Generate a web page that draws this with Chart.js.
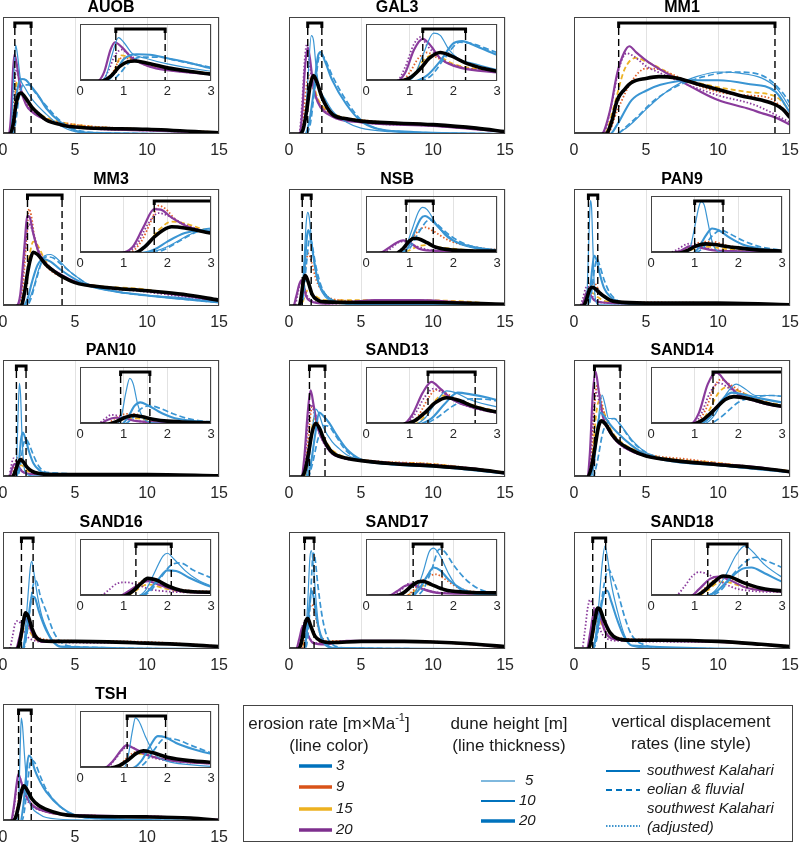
<!DOCTYPE html>
<html>
<head>
<meta charset="utf-8">
<script src="https://cdn.jsdelivr.net/npm/chart.js@4.4.1/dist/chart.umd.min.js"></script>
<style>
  body { margin: 0; background: #fff; width: 799px; height: 844px; position: relative; overflow: hidden; }
  canvas { position: absolute; }
</style>
</head>
<body>
<script>
const FONT = '"Liberation Sans", Arial, sans-serif';

const panelNames = ['AUOB', 'GAL3', 'MM1', 'MM3', 'NSB', 'PAN9', 'PAN10', 'SAND13', 'SAND14', 'SAND16', 'SAND17', 'SAND18', 'TSH'];
const brackets = [[0.82, 1.95], [1.3, 2.28], [3.1, 13.95], [1.7, 4.1], [0.92, 1.54], [1.0, 1.65], [0.93, 1.6],
                  [1.42, 2.5], [1.42, 3.2], [1.28, 2.09], [1.08, 1.74], [1.3, 2.2], [1.08, 1.96]];
const hasInset = [true, true, false, true, true, true, true, true, true, true, true, true, true];
const mainTicks = [0, 5, 10, 15];
const insetTicks = [0, 1, 2, 3];

const erosionRates = ['3', '9', '15', '20'];
const duneHeights = ['5', '10', '20'];
const displacementLabels = ['southwest Kalahari', 'eolian & fluvial', 'southwest Kalahari', '(adjusted)'];

// curve order in every panel: black, blue 5m, blue 10m, blue dashed, purple, purple dotted, orange dotted, yellow dashed
const AUOB = [
  [[0,0],[0.5,0],[0.7,8],[0.9,25],[1.1,34],[1.25,35],[1.5,32],[2,23],[2.5,17],[3,12],[4,8],[5,6],[10,4],[15,1]],
  [[0,0],[0.45,0],[0.6,10],[0.75,50],[0.88,76],[1.0,68],[1.2,48],[1.5,40],[2,30],[3,17],[4,7],[5,2],[7,0.5],[15,0]],
  [[0,0],[0.6,0],[0.8,15],[1.0,38],[1.3,47],[1.6,46],[2,40],[2.5,32],[3,22],[4,10],[5,3],[6,1],[15,0]],
  [[0,0],[0.7,0],[0.9,12],[1.1,30],[1.4,42],[1.8,42],[2.2,36],[3,24],[4,11],[5,4],[7,1],[15,0]],
  [[0,0],[0.4,0],[0.55,15],[0.7,55],[0.8,68],[0.95,60],[1.2,40],[1.6,25],[2,19],[3,12],[5,6],[10,3],[15,1]],
  [[0,0],[0.5,0],[0.65,18],[0.8,45],[0.95,55],[1.1,48],[1.4,32],[2,20],[3,12],[5,6],[10,3],[15,1]],
  [[0,0],[0.6,0],[0.75,15],[0.95,40],[1.2,38],[1.5,28],[2,20],[3,13],[5,8],[10,4],[15,1.5]],
  [[0,0],[0.6,0],[0.8,20],[0.95,45],[1.1,42],[1.4,32],[2,22],[3,14],[5,8],[10,4],[15,1.5]]
];
const GAL3 = [
  [[0,0],[0.75,0],[1.0,5],[1.25,22],[1.45,40],[1.7,50],[1.95,44],[2.3,31],[3,17],[4,13],[5,11],[10,8],[13,5],[15,2]],
  [[0,0],[0.9,0],[1.1,8],[1.3,45],[1.55,84],[1.7,80],[1.9,55],[2.1,40],[2.5,30],[3,20],[4,10],[5,5],[7,2],[10,1],[15,0]],
  [[0,0],[1.1,0],[1.4,10],[1.7,35],[2.0,66],[2.2,70],[2.5,62],[3,46],[4,25],[5,11],[6,5],[8,2],[15,0]],
  [[0,0],[1.2,0],[1.5,10],[1.8,40],[2.15,68],[2.4,66],[3,50],[4,28],[5,12],[6,5],[8,2],[15,0]],
  [[0,0],[0.7,0],[0.9,15],[1.1,55],[1.3,74],[1.45,65],[1.7,40],[2,27],[3,15],[5,10],[10,7],[15,2]],
  [[0,0],[0.7,0],[0.9,25],[1.1,65],[1.25,77],[1.4,62],[1.7,40],[2,28],[3,16],[5,10],[10,7],[15,2]],
  [[0,0],[0.8,0],[1.0,15],[1.2,40],[1.4,50],[1.6,42],[2,28],[3,17],[5,12],[10,8],[15,2]],
  [[0,0],[0.9,0],[1.1,12],[1.3,35],[1.55,46],[1.75,40],[2,30],[3,18],[5,12],[10,8],[15,2]]
];
const MM1 = [
  [[0,0],[2.2,0],[2.6,10],[3,29],[3.5,38],[4,44],[5,47.5],[5.9,49],[7,48],[8.5,43],[10,38],[11.5,33],[13,29],[14,25],[14.5,21],[15,14]],
  [[0,0],[2.8,0],[3.5,4],[4,9],[5,21],[6,32],[7,41],[8.5,49],[10,53],[11.5,52],[13,48],[14,40],[14.5,32],[15,22]],
  [[0,0],[2.5,0],[3,8],[4,29],[5,37],[6,42],[8,46],[10,46],[12,43],[14,36],[15,18]],
  [[0,0],[3,0],[3.5,5],[4.5,16],[5.5,28],[7,40],[9,49],[11,53],[12.5,52],[13.5,47],[14.5,35],[15,26]],
  [[0,0],[1.9,0],[2.5,20],[3,52],[3.5,70],[3.85,75],[4.3,70],[5,63],[6,55],[7,48],[8.5,38],[10,29],[12,22],[13,18],[14,14],[15,8]],
  [[0,0],[2.0,0],[2.6,25],[3.1,55],[3.65,69],[4.2,66],[5,58],[6,52],[7.5,44],[10,33],[12.5,25],[15,10]],
  [[0,0],[2.3,0],[3,20],[4,45],[5,56],[6,55],[7,50],[8.5,42],[10,36],[12,33],[13.5,31],[15,16]],
  [[0,0],[2.1,0],[2.8,25],[3.5,55],[4.3,65],[5,62],[6,56],[7,49],[8.5,44],[10,40],[12,36],[14,32],[15,20]]
];
const MM3 = [
  [[0,0],[1.25,0],[1.5,12],[1.7,28],[1.9,40],[2.1,46],[2.4,44],[3,35],[3.5,30],[4,26],[5,20],[7,16],[10,13],[12.5,10],[15,5]],
  [[0,0],[1.5,0],[1.8,5],[2.1,15],[2.5,32],[2.9,43],[3.3,44],[3.8,40],[4.5,31],[5,26],[6,18],[8,12],[10,9],[12.5,7],[15,3]],
  [[0,0],[1.4,0],[1.7,6],[2.0,20],[2.4,35],[2.8,40],[3.3,38],[4,31],[5,23],[6,17],[8,12],[10,9],[15,3]],
  [[0,0],[1.6,0],[1.9,5],[2.3,22],[2.7,38],[3,42],[3.5,41],[4,36],[5,26],[6,18],[8,12],[10,9],[15,3]],
  [[0,0],[0.9,0],[1.2,10],[1.45,45],[1.7,77],[1.85,76],[2.1,62],[2.5,45],[3,36],[4,27],[5,21],[7,16],[10,13],[12.5,9],[15,4]],
  [[0,0],[1.0,0],[1.3,15],[1.55,50],[1.8,70],[2.0,66],[2.4,50],[3,36],[4,26],[5,20],[10,12],[15,4]],
  [[0,0],[1.1,0],[1.4,20],[1.65,60],[1.8,83],[1.95,78],[2.2,58],[2.6,42],[3,34],[4,25],[5,20],[10,13],[15,5]],
  [[0,0],[1.2,0],[1.5,12],[1.8,40],[2.1,55],[2.4,52],[2.8,42],[3.5,30],[5,21],[10,14],[15,5]]
];
const NSB = [
  [[0,0],[0.7,0],[0.85,8],[0.98,20],[1.1,26],[1.2,25],[1.4,18],[1.6,10],[2,5],[2.5,3.5],[5,3],[10,3],[15,1.5]],
  [[0,0],[0.7,0],[0.9,10],[1.05,40],[1.2,72],[1.3,80],[1.4,76],[1.6,52],[1.8,32],[2.1,17],[2.5,8],[3,4],[4,2],[15,1]],
  [[0,0],[0.75,0],[0.95,8],[1.1,35],[1.25,60],[1.35,65],[1.5,58],[1.7,42],[2,22],[2.5,10],[3,5],[4,2],[15,1]],
  [[0,0],[0.8,0],[1.0,8],[1.2,35],[1.45,58],[1.6,52],[1.9,32],[2.3,15],[3,5],[4,2],[15,1]],
  [[0,0],[0.3,0],[0.5,8],[0.7,18],[0.85,22],[1.0,18],[1.2,8],[1.5,4],[2.5,2],[4,3],[6,5],[9,5],[12,3],[15,1]],
  [[0,0],[0.4,0],[0.6,10],[0.8,20],[0.95,20],[1.15,12],[1.5,5],[3,2],[5,4],[8,5],[12,3],[15,1]],
  [[0,0],[0.7,0],[0.95,12],[1.15,35],[1.35,45],[1.55,38],[1.9,22],[2.5,10],[3.5,5],[6,4],[10,4],[15,1]],
  [[0,0],[0.8,0],[1.0,5],[1.2,12],[1.4,14],[1.7,10],[2.5,5],[5,5],[8,5],[12,4],[15,1]]
];
const PAN9 = [
  [[0,0],[0.65,0],[0.85,5],[1.05,13],[1.25,16],[1.45,15],[1.7,12],[2,9],[2.5,5],[3,3.5],[5,2.5],[10,2.5],[15,1]],
  [[0,0],[0.8,0],[0.9,10],[1.0,45],[1.1,82],[1.15,90],[1.22,84],[1.3,55],[1.4,20],[1.5,5],[1.7,1],[15,0]],
  [[0,0],[0.95,0],[1.1,10],[1.25,30],[1.4,43],[1.55,40],[1.8,27],[2.1,15],[2.5,8],[3,4],[4,2],[15,0.5]],
  [[0,0],[1.0,0],[1.2,10],[1.4,30],[1.6,40],[1.8,34],[2.1,22],[2.5,11],[3,5],[4,2],[15,0.5]],
  [[0,0],[0.5,0],[0.7,5],[0.9,12],[1.1,10],[1.4,5],[2,3],[4,2],[8,2],[12,1.5],[15,1]],
  [[0,0],[0.4,0],[0.6,6],[0.8,15],[0.92,17],[1.1,13],[1.4,6],[2,3],[4,2],[10,2],[15,1]],
  [[0,0],[0.6,0],[0.8,6],[1.0,15],[1.2,20],[1.4,20],[1.7,14],[2.2,7],[3,4],[6,3],[10,2.5],[15,1]],
  [[0,0],[0.7,0],[0.9,5],[1.1,10],[1.3,11],[1.6,8],[2.2,4],[4,2.5],[10,2],[15,1]]
];
const PAN10 = [
  [[0,0],[0.65,0],[0.85,5],[1.05,12],[1.22,15],[1.4,13],[1.7,8],[2,5],[2.5,3],[3.5,2],[10,2],[15,1]],
  [[0,0],[0.85,0],[0.95,15],[1.05,55],[1.14,80],[1.22,70],[1.32,35],[1.45,10],[1.6,3],[2,1],[15,0]],
  [[0,0],[0.95,0],[1.1,12],[1.25,32],[1.38,38],[1.55,33],[1.8,22],[2.1,12],[2.5,6],[3,3],[15,0.5]],
  [[0,0],[1.0,0],[1.2,10],[1.4,27],[1.6,32],[1.85,27],[2.1,19],[2.5,9],[3,4],[15,0.5]],
  [[0,0],[0.45,0],[0.6,6],[0.8,11],[1.0,10],[1.3,5],[2,2.5],[5,2],[10,2],[15,1]],
  [[0,0],[0.4,0],[0.55,8],[0.72,16],[0.9,14],[1.2,7],[1.6,3],[3,2],[10,2],[15,1]],
  [[0,0],[0.6,0],[0.8,10],[1.0,17],[1.2,18],[1.45,13],[1.8,6],[2.5,3],[5,2],[15,1]],
  [[0,0],[0.7,0],[0.9,6],[1.1,10],[1.3,10],[1.6,6],[2.2,3],[5,2],[15,1]]
];
const SAND13 = [
  [[0,0],[0.85,0],[1.1,5],[1.35,20],[1.6,38],[1.85,46],[2.1,42],[2.5,30],[3,21],[4,16],[5,14],[7,11.5],[10,9.5],[13,6.5],[15,3.5]],
  [[0,0],[1.1,0],[1.35,10],[1.6,38],[1.85,58],[2.05,55],[2.4,42],[3,30],[3.5,24],[4,19],[5,14],[7,11],[10,9],[13,6],[15,3]],
  [[0,0],[1.2,0],[1.5,10],[1.8,35],[2.1,55],[2.4,52],[2.8,46],[3.2,38],[4,24],[5,15],[7,11],[10,9],[15,3]],
  [[0,0],[1.3,0],[1.6,10],[2,32],[2.4,44],[2.8,43],[3.2,36],[4,22],[5,15],[7,11],[10,9],[15,3]],
  [[0,0],[0.85,0],[1.05,15],[1.3,55],[1.5,74],[1.7,62],[2,42],[2.5,28],[3,20],[4,16],[5,14],[10,10],[13,7],[15,3]],
  [[0,0],[0.9,0],[1.1,15],[1.35,48],[1.55,62],[1.75,55],[2.1,38],[3,20],[5,14],[10,10],[15,3]],
  [[0,0],[1.0,0],[1.2,15],[1.45,48],[1.6,60],[1.8,55],[2.2,38],[3,22],[5,15],[10,11],[15,4]],
  [[0,0],[1.1,0],[1.3,10],[1.55,38],[1.75,50],[2,45],[2.5,32],[3,23],[5,15],[10,11],[15,4]]
];
const SAND14 = [
  [[0,0],[0.95,0],[1.2,8],[1.45,25],[1.7,43],[1.9,48],[2.2,45],[2.6,37],[3,31],[4,23],[5,18],[7,14],[10,10.5],[13,7.5],[15,4.5]],
  [[0,0],[1.2,0],[1.45,15],[1.7,50],[1.95,70],[2.15,62],[2.4,50],[2.75,50],[3.2,45],[4,32],[5,21],[6,16],[8,12],[10,10],[12.5,8],[15,4]],
  [[0,0],[1.1,0],[1.35,12],[1.6,40],[1.85,55],[2.1,52],[2.5,45],[3,38],[4,27],[5,19],[7,13],[10,10],[15,4]],
  [[0,0],[1.3,0],[1.6,12],[2,38],[2.4,48],[2.8,50],[3.3,43],[4,31],[5,21],[7,14],[10,10],[15,4]],
  [[0,0],[0.9,0],[1.1,20],[1.3,70],[1.5,90],[1.7,75],[2,52],[2.5,38],[3,30],[4,22],[5,18],[7,14],[10,11],[13,8],[15,4]],
  [[0,0],[0.95,0],[1.15,18],[1.35,55],[1.55,72],[1.8,62],[2.2,45],[3,30],[5,18],[10,11],[15,4]],
  [[0,0],[1.0,0],[1.25,25],[1.45,65],[1.6,78],[1.8,70],[2.2,50],[3,32],[5,20],[8,15],[10,12],[15,5]],
  [[0,0],[1.05,0],[1.3,20],[1.55,55],[1.75,65],[2,58],[2.5,42],[3,33],[5,20],[10,12],[15,5]]
];
const SAND16 = [
  [[0,0],[1.0,0],[1.2,8],[1.4,22],[1.55,31],[1.75,28],[2,18],[2.3,10],[2.7,7],[3.5,6.5],[5,6.5],[10,5],[13,3.5],[15,2]],
  [[0,0],[1.3,0],[1.5,10],[1.7,40],[1.9,70],[2.0,75],[2.15,65],[2.4,45],[2.7,28],[3,18],[3.5,6],[4,2],[5,1],[15,0]],
  [[0,0],[1.35,0],[1.55,8],[1.8,30],[2.0,45],[2.2,44],[2.5,32],[3,16],[3.5,6],[4,2],[15,0]],
  [[0,0],[1.4,0],[1.6,8],[1.85,32],[2.1,55],[2.3,58],[2.6,45],[3,32],[3.5,15],[4,6],[5,2],[15,0]],
  [[0,0],[0.9,0],[1.1,8],[1.35,20],[1.55,26],[1.8,20],[2.2,10],[3,6],[5,6],[10,5],[15,2]],
  [[0,0],[0.45,0],[0.65,10],[0.85,22],[1.05,24],[1.3,20],[1.6,12],[2,8],[3,6],[10,5],[15,2]],
  [[0,0],[1.0,0],[1.2,12],[1.4,25],[1.55,29],[1.8,24],[2.2,13],[3,8],[5,7],[10,6],[15,2.5]],
  [[0,0],[1.05,0],[1.25,8],[1.45,18],[1.6,20],[1.85,15],[2.3,8],[3,6],[5,6],[10,5],[15,2]]
];
const SAND17 = [
  [[0,0],[0.65,0],[0.85,5],[1.05,18],[1.2,25],[1.3,26],[1.5,20],[1.8,11],[2.2,7],[3,5.5],[5,6.5],[8,6.5],[10,6],[12.5,4.5],[15,2]],
  [[0,0],[1.0,0],[1.15,10],[1.3,40],[1.45,78],[1.55,84],[1.7,70],[1.9,38],[2.1,15],[2.4,5],[3,1],[15,0]],
  [[0,0],[1.05,0],[1.2,10],[1.4,35],[1.55,50],[1.7,45],[1.9,28],[2.2,12],[2.6,4],[3,1],[15,0]],
  [[0,0],[1.1,0],[1.3,10],[1.5,45],[1.68,82],[1.8,78],[2.0,55],[2.3,28],[2.6,12],[3,4],[4,1],[15,0]],
  [[0,0],[0.5,0],[0.7,8],[0.9,18],[1.05,20],[1.3,12],[1.7,5],[2.5,4],[4,7],[7,7],[10,6],[13,4],[15,1.5]],
  [[0,0],[0.6,0],[0.8,10],[1.0,22],[1.15,20],[1.4,10],[2,5],[4,7],[8,6.5],[12,4.5],[15,1.5]],
  [[0,0],[0.9,0],[1.15,15],[1.4,33],[1.6,38],[1.8,30],[2.1,15],[2.6,7],[4,7],[8,7],[12,5],[15,2]],
  [[0,0],[0.9,0],[1.1,8],[1.3,18],[1.45,20],[1.7,14],[2.2,6],[4,7],[8,6.5],[12,4.5],[15,1.5]]
];
const SAND18 = [
  [[0,0],[1.0,0],[1.2,8],[1.45,25],[1.65,35],[1.8,34],[2.1,24],[2.5,14],[3,9],[4,7.5],[6,7.5],[10,6.5],[13,4],[15,2]],
  [[0,0],[1.2,0],[1.45,8],[1.7,35],[1.95,72],[2.15,88],[2.3,80],[2.6,55],[3,33],[3.5,12],[4,3],[5,1],[15,0]],
  [[0,0],[1.25,0],[1.5,8],[1.8,30],[2.1,48],[2.3,50],[2.6,40],[3,25],[3.5,10],[4,3],[15,0]],
  [[0,0],[1.3,0],[1.6,10],[1.9,40],[2.2,62],[2.4,68],[2.7,60],[3,50],[3.5,28],[4,12],[5,3],[6,1],[15,0]],
  [[0,0],[0.9,0],[1.1,12],[1.35,30],[1.55,34],[1.8,28],[2.2,14],[3,8],[5,7],[10,6],[15,2]],
  [[0,0],[0.55,0],[0.75,15],[0.95,35],[1.1,42],[1.3,38],[1.6,25],[2,12],[3,7],[10,6],[15,2]],
  [[0,0],[1.0,0],[1.25,15],[1.5,30],[1.7,32],[1.95,27],[2.4,15],[3,10],[5,8],[10,6.5],[15,2.5]],
  [[0,0],[1.05,0],[1.3,10],[1.5,22],[1.7,25],[1.95,20],[2.4,11],[3,8],[5,7],[10,6],[15,2]]
];
const TSH = [
  [[0,0],[0.7,0],[0.9,4],[1.1,14],[1.3,26],[1.45,30],[1.65,27],[2,19],[2.5,13],[3,10],[4,6],[5,4.5],[10,3.5],[13,2.5],[15,0.5]],
  [[0,0],[1.0,0],[1.1,20],[1.2,65],[1.27,88],[1.35,82],[1.5,55],[1.7,25],[2,12],[2.5,6],[3,3],[5,1],[15,0]],
  [[0,0],[1.2,0],[1.4,12],[1.6,38],[1.78,56],[1.95,54],[2.2,44],[2.6,33],[3,25],[4,12],[5,5],[7,2],[15,0]],
  [[0,0],[1.3,0],[1.5,10],[1.7,32],[1.95,52],[2.2,50],[2.6,38],[3,27],[4,12],[5,5],[7,2],[15,0]],
  [[0,0],[0.55,0],[0.75,12],[0.95,32],[1.07,40],[1.2,36],[1.5,24],[2,14],[3,8],[5,5],[10,4],[15,1]],
  [[0,0],[0.6,0],[0.8,15],[1.0,34],[1.12,38],[1.3,32],[1.6,20],[2,13],[3,8],[5,5],[10,4],[15,1]],
  [[0,0],[0.8,0],[1.0,12],[1.2,26],[1.35,28],[1.6,22],[2,14],[3,8],[5,5],[10,4],[15,1]],
  [[0,0],[0.85,0],[1.05,12],[1.25,24],[1.4,25],[1.65,20],[2,14],[3,8],[5,5],[10,4],[15,1]]
];
const panelCurves = [AUOB, GAL3, MM1, MM3, NSB, PAN9, PAN10, SAND13, SAND14, SAND16, SAND17, SAND18, TSH];

// styles (kept apart from the data)
const curveColors = ['#000000', '#3a95d3', '#3a95d3', '#3a95d3', '#8a3b9c', '#8a3b9c', '#e0622b', '#edb325'];
const curveWidths = [3.6, 1.2, 2.1, 1.7, 2.2, 1.8, 1.8, 1.8];
const curveDashes = [[], [], [], [6, 3], [], [1.5, 2], [1.5, 2], [5, 3]];
const colLeft = [3, 289, 574];
const rowTop = [17, 189, 360, 532, 704];

const decor = {
  id: 'decor',
  afterDatasetsDraw(chart, args, opts) {
    const ctx = chart.ctx, a = chart.chartArea, x = chart.scales.x;
    const x1 = x.getPixelForValue(opts.range[0]), x2 = x.getPixelForValue(opts.range[1]);
    const yb = a.top + opts.gap;
    ctx.save();
    ctx.beginPath();
    ctx.rect(a.left, a.top - 1, a.right - a.left, a.bottom - a.top + 1);
    ctx.clip();
    ctx.strokeStyle = '#000';
    ctx.lineWidth = 1.4;
    ctx.setLineDash([7, 4]);
    [x1, x2].forEach(px => {
      ctx.beginPath();
      ctx.moveTo(px, yb + opts.stub);
      ctx.lineTo(px, a.bottom);
      ctx.stroke();
    });
    ctx.setLineDash([]);
    ctx.lineWidth = 3;
    ctx.beginPath();
    ctx.moveTo(x1, yb + opts.stub);
    ctx.lineTo(x1, yb);
    ctx.lineTo(x2, yb);
    ctx.lineTo(x2, yb + opts.stub);
    ctx.stroke();
    ctx.restore();

    ctx.save();
    ctx.strokeStyle = '#444';
    ctx.lineWidth = 1;
    ctx.strokeRect(Math.round(a.left) + 0.5, Math.round(a.top) + 0.5, Math.round(a.right - a.left) - 1, Math.round(a.bottom - a.top) - 1);
    if (opts.title) {
      ctx.font = 'bold 16px ' + FONT;
      ctx.fillStyle = '#000';
      ctx.textAlign = 'center';
      ctx.textBaseline = 'middle';
      ctx.fillText(opts.title, (a.left + a.right) / 2, a.top - 9);
    }
    ctx.restore();
  }
};

function makeChart(left, top, w, h, padL, padT, axisH, xmax, tickList, tickSize, tickPad, curves, decorOpts) {
  const cv = document.createElement('canvas');
  const W = w + padL * 2, H = h + padT + axisH;
  cv.width = W; cv.height = H;
  cv.style.left = (left - padL) + 'px';
  cv.style.top = (top - padT) + 'px';
  cv.style.width = W + 'px';
  cv.style.height = H + 'px';
  document.body.appendChild(cv);
  new Chart(cv, {
    type: 'line',
    data: {
      datasets: curves.map((c, k) => ({
        data: c.map(p => ({ x: p[0], y: p[1] })),
        borderColor: curveColors[k],
        borderWidth: curveWidths[k],
        borderDash: curveDashes[k],
        borderCapStyle: 'butt',
        pointRadius: 0,
        fill: false,
        cubicInterpolationMode: 'monotone'
      }))
    },
    options: {
      responsive: false,
      animation: false,
      devicePixelRatio: 1,
      layout: { padding: { left: padL, right: padL, top: padT, bottom: 0 } },
      scales: {
        x: {
          type: 'linear', min: 0, max: xmax,
          afterFit: s => { s.height = axisH; },
          afterBuildTicks: s => { s.ticks = tickList.map(v => ({ value: v })); },
          ticks: { font: { size: tickSize, family: FONT }, color: '#262626', padding: tickPad, maxRotation: 0 },
          grid: { color: '#e2e2e2', drawTicks: false },
          border: { display: false }
        },
        y: { min: 0, max: 100, display: false }
      },
      plugins: { legend: { display: false }, tooltip: { enabled: false }, decor: decorOpts }
    },
    plugins: [decor]
  });
}

panelNames.forEach((name, i) => {
  const L = colLeft[i % 3], T = rowTop[Math.floor(i / 3)];
  makeChart(L, T, 218, 117, 14, 18, 26, 15, mainTicks, 16, 7, panelCurves[i],
    { range: brackets[i], gap: 6, stub: 5, title: name });
  if (hasInset[i]) {
    makeChart(L + 77, T + 7, 131, 57, 10, 2, 18, 3, insetTicks, 13, 3, panelCurves[i],
      { range: brackets[i], gap: 5, stub: 4, title: null });
  }
});

// legend box
(function drawLegend() {
  const ox = 242, oy = 704;
  const cv = document.createElement('canvas');
  cv.width = 552; cv.height = 140;
  cv.style.left = ox + 'px'; cv.style.top = oy + 'px';
  document.body.appendChild(cv);
  const c = cv.getContext('2d');
  c.strokeStyle = '#444';
  c.lineWidth = 1;
  c.strokeRect(243.5 - ox, 705.5 - oy, 549, 136);
  c.fillStyle = '#1a1a1a';
  c.textBaseline = 'middle';

  // erosion rate title with superscript
  c.font = '17px ' + FONT;
  const t1 = 'erosion rate [m×Ma', t3 = ']';
  const w1 = c.measureText(t1).width, w3 = c.measureText(t3).width;
  c.font = '11px ' + FONT;
  const w2 = c.measureText('-1').width;
  let sx = 329 - (w1 + w2 + w3) / 2 - ox;
  c.textAlign = 'left';
  c.font = '17px ' + FONT;
  c.fillText(t1, sx, 724 - oy);
  c.font = '11px ' + FONT;
  c.fillText('-1', sx + w1, 718 - oy);
  c.font = '17px ' + FONT;
  c.fillText(t3, sx + w1 + w2, 724 - oy);
  c.textAlign = 'center';
  c.fillText('(line color)', 329 - ox, 746 - oy);
  c.fillText('dune height [m]', 509 - ox, 724 - oy);
  c.fillText('(line thickness)', 509 - ox, 746 - oy);
  c.fillText('vertical displacement', 691 - ox, 722 - oy);
  c.fillText('rates (line style)', 691 - ox, 744 - oy);

  const legendColors = ['#0072bd', '#d95319', '#edb120', '#7e2f8e'];
  const colorY = [766, 787, 809, 830];
  c.font = 'italic 15px ' + FONT;
  c.textAlign = 'left';
  erosionRates.forEach((r, k) => {
    c.strokeStyle = legendColors[k];
    c.lineWidth = 3.5;
    c.beginPath(); c.moveTo(299 - ox, colorY[k] - oy); c.lineTo(332 - ox, colorY[k] - oy); c.stroke();
    c.fillText(r, 336 - ox, colorY[k] - oy);
  });

  const duneY = [781, 801, 821], duneW = [1, 1.8, 3.5], duneX = [525, 519, 519];
  duneHeights.forEach((d, k) => {
    c.strokeStyle = '#0072bd';
    c.lineWidth = duneW[k];
    c.beginPath(); c.moveTo(481 - ox, duneY[k] - oy); c.lineTo(515 - ox, duneY[k] - oy); c.stroke();
    c.fillText(d, duneX[k] - ox, duneY[k] - oy);
  });

  const styleY = [771, 790, 826], styleDash = [[], [6, 4], [1.5, 1.5]], styleW = [2.2, 2.2, 1.4];
  styleY.forEach((y, k) => {
    c.strokeStyle = '#0072bd';
    c.lineWidth = styleW[k];
    c.setLineDash(styleDash[k]);
    c.beginPath(); c.moveTo(606 - ox, y - oy); c.lineTo(640 - ox, y - oy); c.stroke();
  });
  c.setLineDash([]);
  const labelY = [771, 790, 809, 828];
  displacementLabels.forEach((t, k) => c.fillText(t, 647 - ox, labelY[k] - oy));
})();
</script>
</body>
</html>
